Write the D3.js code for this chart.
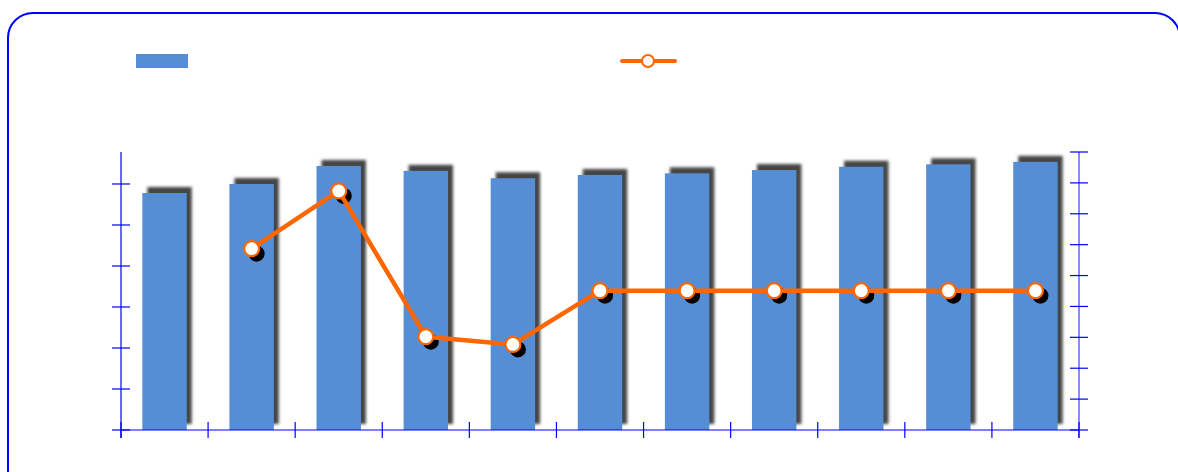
<!DOCTYPE html>
<html>
<head>
<meta charset="utf-8">
<script src="https://cdn.jsdelivr.net/npm/d3@7"></script>
<style>
  body { margin: 0; background: #fff; }
  svg { display: block; }
</style>
</head>
<body>
<div id="chart"></div>
<script>
// Data (no labels are shown in the reference)
const categories = ["1", "2", "3", "4", "5", "6", "7", "8", "9", "10", "11"];
const barValues = [289, 300, 322, 316, 307, 311, 313, 317, 321, 324, 327];
const lineValues = [null, 58.7, 77.4, 30.2, 27.7, 45.1, 45.1, 45.1, 45.1, 45.1, 45.1];
const leftTicks = [0, 50, 100, 150, 200, 250, 300];
const rightTicks = [0, 10, 20, 30, 40, 50, 60, 70, 80, 90];

const W = 1178, H = 472;
const margin = { top: 152, right: 99, bottom: 42, left: 121 };
const width = W - margin.left - margin.right;
const height = H - margin.top - margin.bottom;

const root = d3.select("#chart").append("svg")
  .attr("width", W)
  .attr("height", H);

// Blur for bar shadows
const defs = root.append("defs");
defs.append("filter")
  .attr("id", "blur")
  .attr("x", "-20%").attr("y", "-20%")
  .attr("width", "140%").attr("height", "140%")
  .append("feGaussianBlur")
  .attr("stdDeviation", 1.4);

// Outer rounded frame
root.append("rect")
  .attr("x", 8)
  .attr("y", 13)
  .attr("width", 1172)
  .attr("height", 490)
  .attr("rx", 25)
  .style("fill", "none")
  .style("stroke", "#0000ff")
  .style("stroke-width", 2);

// Legend
const legend = root.append("g");
legend.append("rect")
  .attr("x", 136).attr("y", 54)
  .attr("width", 52).attr("height", 14)
  .style("fill", "#558ed5");
legend.append("line")
  .attr("x1", 622).attr("x2", 675)
  .attr("y1", 61).attr("y2", 61)
  .style("stroke", "#ff6600")
  .style("stroke-width", 4)
  .style("stroke-linecap", "round");
legend.append("circle")
  .attr("cx", 648).attr("cy", 61).attr("r", 6)
  .style("fill", "#fff")
  .style("stroke", "#ff6600")
  .style("stroke-width", 2);

const svg = root.append("g")
  .attr("transform", `translate(${margin.left},${margin.top})`);

// Scales
const x = d3.scaleBand()
  .domain(categories)
  .range([0, width])
  .paddingInner(0.49)
  .paddingOuter(0.245);

const xAxisScale = d3.scaleLinear()
  .domain([0, categories.length])
  .range([0, width]);

const yLeft = d3.scaleLinear()
  .domain([0, 339])
  .range([height, 0]);

const yRight = d3.scaleLinear()
  .domain([0, 90])
  .range([height, 0]);

// Bar shadows
svg.selectAll("rect.shadow")
  .data(barValues)
  .enter()
  .append("rect")
  .attr("class", "shadow")
  .attr("x", (d, i) => x(categories[i]) + 5)
  .attr("y", d => yLeft(d) - 6)
  .attr("width", x.bandwidth())
  .attr("height", d => height - yLeft(d))
  .style("fill", "#444")
  .attr("filter", "url(#blur)");

// Bars
svg.selectAll("rect.bar")
  .data(barValues)
  .enter()
  .append("rect")
  .attr("class", "bar")
  .attr("x", (d, i) => x(categories[i]))
  .attr("y", d => yLeft(d))
  .attr("width", x.bandwidth())
  .attr("height", d => height - yLeft(d))
  .style("fill", "#558ed5");

// Axes
const axisColor = "#0000ff";

svg.append("line")
  .attr("x1", 0).attr("x2", 0)
  .attr("y1", 0).attr("y2", height + 8)
  .style("stroke", axisColor).style("stroke-width", 1.2);

svg.selectAll("line.ltick")
  .data(leftTicks)
  .enter()
  .append("line")
  .attr("class", "ltick")
  .attr("x1", -9).attr("x2", 9)
  .attr("y1", d => yLeft(d)).attr("y2", d => yLeft(d))
  .style("stroke", axisColor).style("stroke-width", 1.2);

svg.append("line")
  .attr("x1", width).attr("x2", width)
  .attr("y1", 0).attr("y2", height + 8)
  .style("stroke", axisColor).style("stroke-width", 2)
  .style("opacity", 0.45);

svg.selectAll("line.rtick")
  .data(rightTicks)
  .enter()
  .append("line")
  .attr("class", "rtick")
  .attr("x1", width - 9).attr("x2", width + 9)
  .attr("y1", d => yRight(d)).attr("y2", d => yRight(d))
  .style("stroke", axisColor).style("stroke-width", 1.2);

svg.append("line")
  .attr("x1", 0).attr("x2", width)
  .attr("y1", height).attr("y2", height)
  .style("stroke", axisColor).style("stroke-width", 1.2);

svg.selectAll("line.xtick")
  .data(d3.range(categories.length + 1))
  .enter()
  .append("line")
  .attr("class", "xtick")
  .attr("x1", d => xAxisScale(d)).attr("x2", d => xAxisScale(d))
  .attr("y1", height - 8).attr("y2", height + 8)
  .style("stroke", axisColor).style("stroke-width", 1.2);

// Line series
const pts = lineValues
  .map((v, i) => ({ cat: categories[i], v }))
  .filter(d => d.v != null);

const cx = d => x(d.cat) + x.bandwidth() / 2;

svg.selectAll("circle.pshadow")
  .data(pts)
  .enter()
  .append("circle")
  .attr("class", "pshadow")
  .attr("cx", d => cx(d) + 5)
  .attr("cy", d => yRight(d.v) + 5)
  .attr("r", 8)
  .style("fill", "#000");

svg.append("path")
  .datum(pts)
  .attr("d", d3.line().x(cx).y(d => yRight(d.v)))
  .style("fill", "none")
  .style("stroke", "#ff6600")
  .style("stroke-width", 4.5)
  .style("stroke-linejoin", "round");

svg.selectAll("circle.point")
  .data(pts)
  .enter()
  .append("circle")
  .attr("class", "point")
  .attr("cx", cx)
  .attr("cy", d => yRight(d.v))
  .attr("r", 7.5)
  .style("fill", "#fff")
  .style("stroke", "#ff6600")
  .style("stroke-width", 2.2);
</script>
</body>
</html>
